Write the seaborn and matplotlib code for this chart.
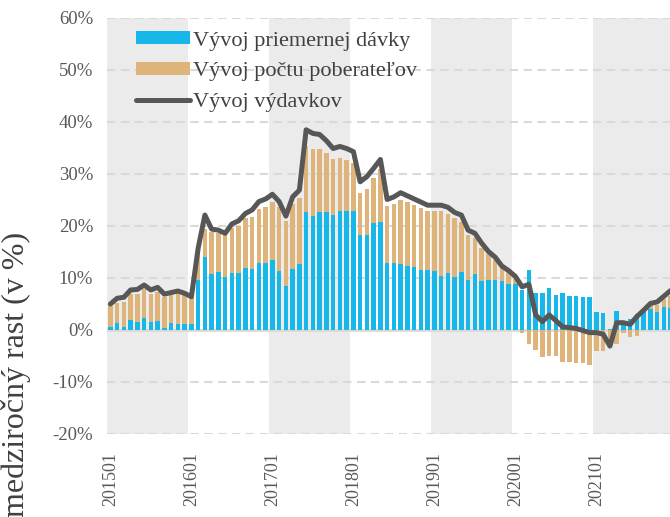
import numpy as np
import pandas as pd
import matplotlib
matplotlib.use("Agg")
import matplotlib.pyplot as plt
import seaborn as sns
from matplotlib.patches import Patch
from matplotlib.lines import Line2D

# ---- data (monthly, 2015-01 .. 2021-12 visible part) ----
avg_benefit = [0.6, 1.4, 0.6, 1.9, 1.5, 2.4, 1.5, 1.8, 0.45, 1.3, 1.2, 1.2,
               1.15, 9.7, 14.1, 10.8, 11.1, 10.1, 11.0, 11.0, 12.0, 11.7, 12.9, 12.9,
               13.5, 11.3, 8.5, 11.8, 12.6, 22.6, 22.0, 22.6, 22.7, 22.1, 22.9, 22.8,
               22.9, 18.3, 18.2, 20.5, 20.8, 12.9, 12.9, 12.6, 12.4, 12.2, 11.5, 11.5,
               11.4, 10.4, 10.9, 10.1, 11.2, 9.6, 10.8, 9.5, 9.7, 9.7, 9.4, 8.8,
               8.8, 7.7, 11.5, 7.2, 7.2, 8.0, 6.7, 7.1, 6.6, 6.5, 6.3, 6.4,
               3.4, 3.2, 0.2, 3.6, 1.6, 2.1, 3.1, 3.7, 4.0, 3.4, 4.4, 4.3]
recipients = [4.0, 3.7, 4.8, 5.0, 5.5, 5.4, 5.4, 5.6, 5.95, 5.4, 5.85, 5.5,
              5.15, 5.3, 5.4, 8.1, 7.6, 8.2, 8.7, 9.0, 9.5, 10.1, 10.3, 10.8,
              11.1, 12.4, 12.5, 12.4, 12.8, 12.8, 12.9, 12.3, 11.4, 10.7, 10.1, 9.9,
              9.3, 8.1, 9.0, 8.7, 10.2, 10.9, 11.3, 12.4, 12.3, 11.8, 12.0, 11.3,
              11.4, 12.4, 11.5, 11.4, 9.6, 8.7, 6.8, 6.2, 5.0, 3.8, 3.1, 2.1,
              1.1, -0.5, -2.7, -3.8, -5.2, -5.0, -5.0, -6.2, -6.2, -6.3, -6.4, -6.7,
              -4.0, -4.0, -3.0, -2.6, -0.6, -1.3, -1.1, 0.4, 1.2, 1.5, 1.5, 2.2]
expenditure = [5.0, 6.1, 6.3, 7.7, 7.8, 8.65, 7.7, 8.2, 6.9, 7.2, 7.5, 7.05,
               6.4, 15.7, 22.1, 19.4, 19.2, 18.6, 20.4, 21.0, 22.4, 23.1, 24.7, 25.2,
               26.1, 24.7, 21.9, 25.6, 26.9, 38.5, 37.8, 37.6, 36.4, 34.9, 35.3, 34.9,
               34.3, 28.5, 29.5, 31.1, 32.8, 25.1, 25.6, 26.4, 25.8, 25.2, 24.6, 24.0,
               24.0, 24.0, 23.6, 22.6, 22.1, 19.2, 18.6, 16.7, 15.1, 14.0, 12.3, 11.4,
               10.3, 8.3, 8.8, 2.9, 1.6, 2.9, 1.8, 0.6, 0.45, 0.3, -0.1, -0.5,
               -0.5, -0.8, -3.1, 1.4, 1.4, 1.1, 2.6, 3.8, 5.1, 5.4, 6.5, 7.6]
x_tick_labels = ["201501", "201601", "201701", "201801", "201901", "202001", "202101"]
y_ticks = [-20, -10, 0, 10, 20, 30, 40, 50, 60]
legend_labels = ["Vývoj priemernej dávky", "Vývoj počtu poberateľov", "Vývoj výdavkov"]

BLUE = "#17B8E9"
TAN = "#DFB47B"
LINE = "#575757"
BAND = "#EBEBEB"
GRID = "#D9D9D9"
TXT = "#595959"

df = pd.DataFrame({"idx": np.arange(len(avg_benefit)),
                   "blue": avg_benefit, "tan": recipients, "line": expenditure})
df["tan_bar"] = np.where(df["tan"] > 0, df["blue"] + df["tan"], df["tan"])

sns.set_style("white")
plt.rcParams["font.family"] = ["Liberation Serif", "DejaVu Serif"]
plt.rcParams["lines.scale_dashes"] = False

fig = plt.figure(figsize=(6.7, 5.17), dpi=100)
ax = fig.add_axes([107 / 670, 1 - 434 / 517, 563 / 670, 416 / 517])

# alternating year bands
for k in range(0, 84, 24):
    ax.axvspan(k - 0.5, k + 11.5, color=BAND, zorder=0, lw=0)

# grid
for v in y_ticks:
    if v == 0:
        ax.axhline(v, color=GRID, lw=2.0, zorder=1)
    else:
        ax.axhline(v, color=GRID, lw=1.5, dashes=(6, 4), zorder=1)

sns.barplot(data=df, x="idx", y="tan_bar", native_scale=True, color=TAN,
            saturation=1, width=0.68, errorbar=None, ax=ax, zorder=2, linewidth=0)
sns.barplot(data=df, x="idx", y="blue", native_scale=True, color=BLUE,
            saturation=1, width=0.68, errorbar=None, ax=ax, zorder=3, linewidth=0)
sns.lineplot(data=df, x="idx", y="line", color=LINE, lw=3.6, ax=ax, zorder=4)

ax.set_xlim(-0.5, 82.9)
ax.set_ylim(-20, 60)
ax.set_yticks(y_ticks)
ax.set_yticklabels([f"{v}%" for v in y_ticks], fontsize=13.5, color=TXT)
ax.set_xticks(list(range(0, 84, 12)))
ax.set_xticklabels(x_tick_labels, rotation=90, fontsize=13, color=TXT)
ax.tick_params(axis="y", length=0, pad=10)
ax.tick_params(axis="x", length=0, pad=13)
ax.set_xlabel("")
ax.set_ylabel("")
for s in ax.spines.values():
    s.set_visible(False)

handles = [Patch(facecolor=BLUE, edgecolor="none"),
           Patch(facecolor=TAN, edgecolor="none"),
           Line2D([0], [0], color=LINE, lw=3.6)]
leg = ax.legend(handles, legend_labels, loc="upper left",
                bbox_to_anchor=((136 - 107) / 563, 1 - (31 - 18) / 416),
                frameon=False, fontsize=16, handlelength=2.45, handleheight=0.55,
                handletextpad=0.12, labelspacing=0.5, borderpad=0, borderaxespad=0)
for t in leg.get_texts():
    t.set_color("#404040")

fig.text(16 / 670, 1 - 374 / 517, "medziročný rast (v %)", rotation=90,
         fontsize=23, ha="center", va="center", color="#404040")

fig.savefig("out.png", dpi=100)
